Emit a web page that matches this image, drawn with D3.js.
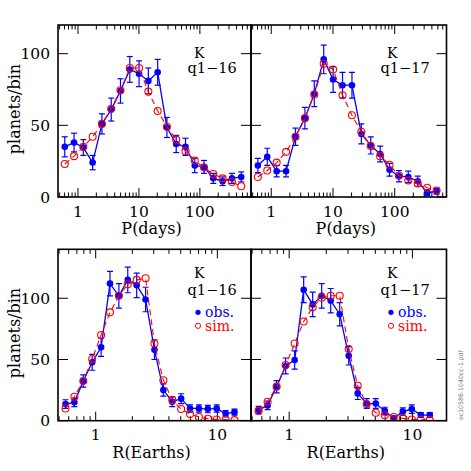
<!DOCTYPE html>
<html><head><meta charset="utf-8">
<script src="https://cdn.jsdelivr.net/npm/d3@7/dist/d3.min.js"></script>
<style>body{margin:0;background:#fff}svg{display:block}</style>
</head><body><svg id="c" width="471" height="471"></svg>
<script>
// Bin centres
const pBins = [0.607,0.862,1.224,1.739,2.47,3.51,4.98,7.08,10.05,14.28,20.3,28.8,40.9,58.1,82.5,117,166,236,336,477];
const rBins = [0.565,0.668,0.791,0.936,1.108,1.311,1.551,1.835,2.172,2.570,3.041,3.598,4.258,5.038,5.962,7.055,8.348,9.879,11.69,13.83];

// Period distributions
const pObs16 = [35,38,34.5,24,51,61,74,89,86,81,87,48.5,37,35,22,21,13,11,13,14];
const pErr16 = [7,6.5,5.5,5,7,8,8.5,9,9,9,9,7,6,6,5,4.5,3.5,3,3.5,3.5];
const pSim16 = [23,28.5,35,42,51,61.5,74.5,90,90,73.5,60,49,40,32,25.5,20.5,16,13,10.5,7.5];
const pObs17 = [22,28,18,18,42,55,72,96,82,78,78,44,36,30,19,14.5,14,11,3,4];
const pErr17 = [5,6,4,4,6,7.5,9,10,9,9,9,7,6,5.5,4.5,4,4,3.5,2,2];
const pSim17 = [14,18.5,24,31.5,42,55,71.5,93,89,71,57,45.5,35.5,28.5,22.5,15,11.5,9.5,6.5,4.5];

// Radius distributions
const rObs16 = [13.6,15,32.4,47.7,60,112,102,115,110.6,99,58,25,15.5,18,10,10,9.5,10,5.7,7];
const rErr16 = [3.5,3.5,5,6.5,7.5,10,10,10.5,10,10,8,5,4,4,3,3,3,3,2.5,2.5];
const rSim16 = [10,19.6,32.4,50.4,70,88.5,102,111.4,115,116.3,63,33,17,9.5,5.5,3,1.6,1,0.8,0.5];
const rObs17 = [8.7,12.5,27.8,44.7,49.6,107,95,102,98,87,53,22.3,14,14,8,2,7.4,9.5,4.6,4.6];
const rErr17 = [3,3.5,5,6.5,7.5,10.5,10,10,10,9.5,7.5,5,4,4,3,1.5,3,3.5,2,2];
const rSim17 = [8,15.5,27.8,45.5,63,81,92.6,100.5,102,102,58.6,28.6,13.4,6.5,4.4,3,1.9,1,0.8,0.5];

// Axis domains and tick labels
const pDomain = [0.47, 690];
const rDomain = [0.49, 18.9];
const pYDomain = [0, 120];
const rYDomain = [0, 140];
const pXLabels = [1, 10, 100];
const rXLabels = [1, 10];
const yLabels = [0, 50, 100];
const quarters = ["q1\u221216", "q1\u221217"];
const xTitles = ["P(days)", "R(Earths)"];
const yTitle = "planets/bin";
const legendItems = ["obs.", "sim."];

const svg = d3.select("#c");
const FONT = "DejaVu Serif";
const BLUE = "#0000ff", RED = "#ff0000";

function panel(opt) {
  const {x0, x1, y0, y1, xDomain, yDomain, bins, obs, err, sim, xLabels, showY, quarter, xTitle, legend} = opt;
  const x = d3.scaleLog().domain(xDomain).range([x0, x1]);
  const y = d3.scaleLinear().domain(yDomain).range([y1, y0]);
  const g = svg.append("g");

  // ticks
  const ticks = x.ticks();
  ticks.forEach(t => {
    const major = Math.abs(Math.log10(t) - Math.round(Math.log10(t))) < 1e-9;
    const L = major ? 9 : 4.5;
    const xx = x(t);
    g.append("line").attr("x1", xx).attr("x2", xx).attr("y1", y1).attr("y2", y1 - L)
      .attr("stroke", "#000").attr("stroke-width", 1);
    g.append("line").attr("x1", xx).attr("x2", xx).attr("y1", y0).attr("y2", y0 + L)
      .attr("stroke", "#000").attr("stroke-width", 1);
  });
  yLabels.forEach(v => {
    const yy = y(v);
    g.append("line").attr("x1", x0).attr("x2", x0 + 10).attr("y1", yy).attr("y2", yy)
      .attr("stroke", "#000").attr("stroke-width", 1);
    g.append("line").attr("x1", x1).attr("x2", x1 - 10).attr("y1", yy).attr("y2", yy)
      .attr("stroke", "#000").attr("stroke-width", 1);
    if (showY) {
      g.append("text").attr("x", x0 - 8).attr("y", yy + 5.5).attr("text-anchor", "end")
        .attr("font-family", FONT).attr("font-size", 15.5).text(v);
    }
  });
  xLabels.forEach(v => {
    g.append("text").attr("x", x(v)).attr("y", y1 + 19.5).attr("text-anchor", "middle")
      .attr("font-family", FONT).attr("font-size", 15.5).text(v);
  });
  g.append("text").attr("x", (x0 + x1) / 2 - 3).attr("y", y1 + 37).attr("text-anchor", "middle")
    .attr("font-family", FONT).attr("font-size", 16).text(xTitle);
  if (showY) {
    g.append("text").attr("transform", `translate(20,${(y0 + y1) / 2 - 2}) rotate(-90)`)
      .attr("text-anchor", "middle").attr("font-family", FONT).attr("font-size", 16).text(yTitle);
  }

  // data
  const clip = "clip" + Math.round(x0) + Math.round(y0);
  svg.append("clipPath").attr("id", clip).append("rect")
    .attr("x", x0).attr("y", y0).attr("width", x1 - x0).attr("height", y1 - y0);
  const d = g.append("g").attr("clip-path", `url(#${clip})`);
  const line = d3.line().x(p => x(p[0])).y(p => y(p[1]));
  d.append("path").attr("d", line(bins.map((b, i) => [b, obs[i]])))
    .attr("fill", "none").attr("stroke", BLUE).attr("stroke-width", 1.3);
  bins.forEach((b, i) => {
    const xx = x(b), ya = y(obs[i] + err[i]), yb = y(Math.max(0, obs[i] - err[i]));
    d.append("line").attr("x1", xx).attr("x2", xx).attr("y1", ya).attr("y2", yb)
      .attr("stroke", BLUE).attr("stroke-width", 1.2);
    [ya, yb].forEach(yy => d.append("line").attr("x1", xx - 3).attr("x2", xx + 3)
      .attr("y1", yy).attr("y2", yy).attr("stroke", BLUE).attr("stroke-width", 1.2));
    d.append("circle").attr("cx", xx).attr("cy", y(obs[i])).attr("r", 3.3).attr("fill", BLUE);
  });
  d.append("path").attr("d", line(bins.map((b, i) => [b, sim[i]])))
    .attr("fill", "none").attr("stroke", RED).attr("stroke-width", 1.1)
    .attr("stroke-dasharray", "6,4");
  bins.forEach((b, i) => {
    d.append("circle").attr("cx", x(b)).attr("cy", y(sim[i])).attr("r", 3.5)
      .attr("fill", "none").attr("stroke", RED).attr("stroke-width", 1.1);
  });

  // frame
  g.append("rect").attr("x", x0).attr("y", y0).attr("width", x1 - x0).attr("height", y1 - y0)
    .attr("fill", "none").attr("stroke", "#000").attr("stroke-width", 1.6);

  // annotation
  const ky = legend ? 29 : 33;
  const qy = legend ? 46 : 48;
  g.append("text").attr("x", x0 + 136).attr("y", y0 + ky).attr("font-family", FONT)
    .attr("font-size", 14).text("K");
  g.append("text").attr("x", x0 + 129.5).attr("y", y0 + qy).attr("font-family", FONT)
    .attr("font-size", 14.5).text(quarter);
  if (legend) {
    g.append("circle").attr("cx", x0 + 140).attr("cy", y0 + 63).attr("r", 2.6).attr("fill", BLUE);
    g.append("text").attr("x", x0 + 147).attr("y", y0 + 67.5).attr("font-family", FONT)
      .attr("font-size", 14).attr("fill", BLUE).text(legendItems[0]);
    g.append("circle").attr("cx", x0 + 140).attr("cy", y0 + 76.5).attr("r", 2.6).attr("fill", "none")
      .attr("stroke", RED).attr("stroke-width", 1);
    g.append("text").attr("x", x0 + 147).attr("y", y0 + 81.5).attr("font-family", FONT)
      .attr("font-size", 14).attr("fill", RED).text(legendItems[1]);
  }
}

panel({x0: 58, x1: 251, y0: 25, y1: 197, xDomain: pDomain, yDomain: pYDomain, bins: pBins,
  obs: pObs16, err: pErr16, sim: pSim16, xLabels: pXLabels, showY: true, quarter: quarters[0], xTitle: xTitles[0], legend: false});
panel({x0: 251, x1: 446.5, y0: 25, y1: 197, xDomain: pDomain, yDomain: pYDomain, bins: pBins,
  obs: pObs17, err: pErr17, sim: pSim17, xLabels: pXLabels, showY: false, quarter: quarters[1], xTitle: xTitles[0], legend: false});
panel({x0: 58, x1: 251, y0: 249.3, y1: 420.7, xDomain: rDomain, yDomain: rYDomain, bins: rBins,
  obs: rObs16, err: rErr16, sim: rSim16, xLabels: rXLabels, showY: true, quarter: quarters[0], xTitle: xTitles[1], legend: true});
panel({x0: 251, x1: 446.5, y0: 249.3, y1: 420.7, xDomain: rDomain, yDomain: rYDomain, bins: rBins,
  obs: rObs17, err: rErr17, sim: rSim17, xLabels: rXLabels, showY: false, quarter: quarters[1], xTitle: xTitles[1], legend: true});

// side stamp
svg.append("text").attr("transform", "translate(463,420) rotate(-90)")
  .attr("font-family", "DejaVu Sans").attr("font-size", 6.2).attr("fill", "#777")
  .text("oc10586-1040cc-1.pdf");
</script>
</body></html>
